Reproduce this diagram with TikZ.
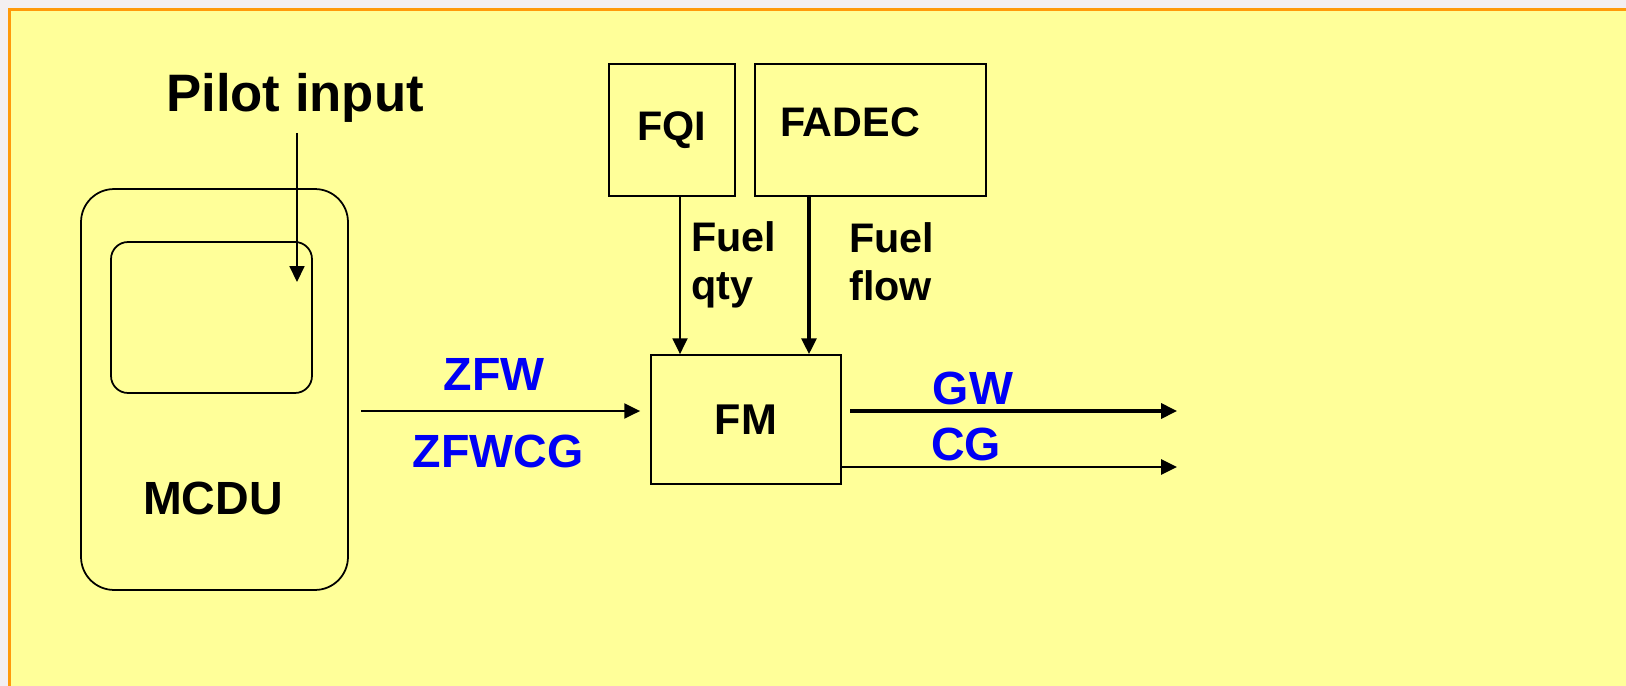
\documentclass[tikz,border=0pt]{standalone}
\usepackage{xcolor}
\usepackage{fontspec}
\setmainfont{Liberation Sans}
\usepackage{tikz}
\usetikzlibrary{arrows.meta, positioning}
\definecolor{panel}{HTML}{FFFF99}
\definecolor{frameorange}{HTML}{FF9A0A}
\definecolor{outside}{HTML}{F3EFF1}
\definecolor{sigblue}{HTML}{0000F5}
\tikzstyle{unit}   = [rectangle, draw, line width=1pt, inner sep=0pt,
                      font=\fontsize{23.5}{27}\selectfont\bfseries]
\tikzstyle{tag}    = [inner sep=0pt, font=\fontsize{23.5}{27.5}\selectfont\bfseries, align=left]
\tikzstyle{signal} = [inner sep=0pt, text=sigblue, font=\fontsize{26.5}{30}\selectfont\bfseries]
\tikzstyle{arrow}  = [-{Triangle[length=9pt, width=8.5pt]}, line width=1.3pt]

\begin{document}
\begin{tikzpicture}[x=0.02cm, y=-0.02cm]
  % Page and frame
  \useasboundingbox (0,0) rectangle (1626,686);
  \fill[outside] (0,0) rectangle (1626,686);
  \filldraw[fill=panel, draw=frameorange, line width=2pt] (9.5,9.5) rectangle (1650,710);

  % MCDU
  \node[draw, line width=1pt, rounded corners=0.66cm, minimum width=5.34cm, minimum height=8.02cm]
    (mcdu) at (214.5,389.5) {};
  \node[draw, line width=1pt, rounded corners=0.34cm, minimum width=4.02cm, minimum height=3.02cm]
    (screen) at (211.5,317.5) {};
  \node[tag, font=\fontsize{26.5}{30}\selectfont\bfseries] (mcdulabel) at (213,498) {MCDU};
  \node[tag, font=\fontsize{30}{34}\selectfont\bfseries] (pilot) at (295,98) {Pilot input};
  \coordinate (pilottop) at (297,133);
  \coordinate (pilottip) at (297,282);
  \draw[arrow, line width=0.9pt] (pilottop) -- (pilottip);

  % Sources and fuel monitor
  \node[unit, minimum width=2.52cm, minimum height=2.64cm] (fqi) at (672,130) {FQI};
  \node[unit, minimum width=4.62cm, minimum height=2.64cm] (fadec) at (870.5,130) {};
  \node[tag] (fadeclabel) at (850,122) {FADEC};
  \node[unit, font=\fontsize{24.5}{28}\selectfont\bfseries, minimum width=3.8cm, minimum height=2.58cm]
    (fm) at (746,419.5) {FM};

  % Fuel inputs
  \coordinate (qtyx) at (680,0);
  \coordinate (flowx) at (809,0);
  \draw[arrow, line width=1.2pt] (fqi.south -| qtyx) -- (fm.north -| qtyx);
  \draw[arrow, line width=1.8pt] (fadec.south -| flowx) -- (fm.north -| flowx);
  \node[tag, anchor=west] (qty) at (691,265) {Fuel\\qty};
  \node[tag, anchor=west] (flow) at (849,262) {Fuel\\flow};

  % Weight data in
  \coordinate (zfwstart) at (361,411);
  \draw[arrow, line width=1.4pt, shorten >=5.7pt] (zfwstart) -- (fm.west |- zfwstart);
  \node[signal] (zfw) at (494,374) {ZFW};
  \node[signal] (zfwcg) at (498,451) {ZFWCG};

  % Weight data out
  \coordinate (gwstart) at (850,411);
  \coordinate (gwend) at (1177,411);
  \coordinate (cgend) at (1177,467);
  \draw[arrow, line width=1.9pt] (gwstart) -- (gwend);
  \draw[arrow, line width=1.4pt] (fm.east |- cgend) -- (cgend);
  \node[signal] (gw) at (973,388) {GW};
  \node[signal] (cg) at (966,444) {CG};
\end{tikzpicture}
\end{document}
